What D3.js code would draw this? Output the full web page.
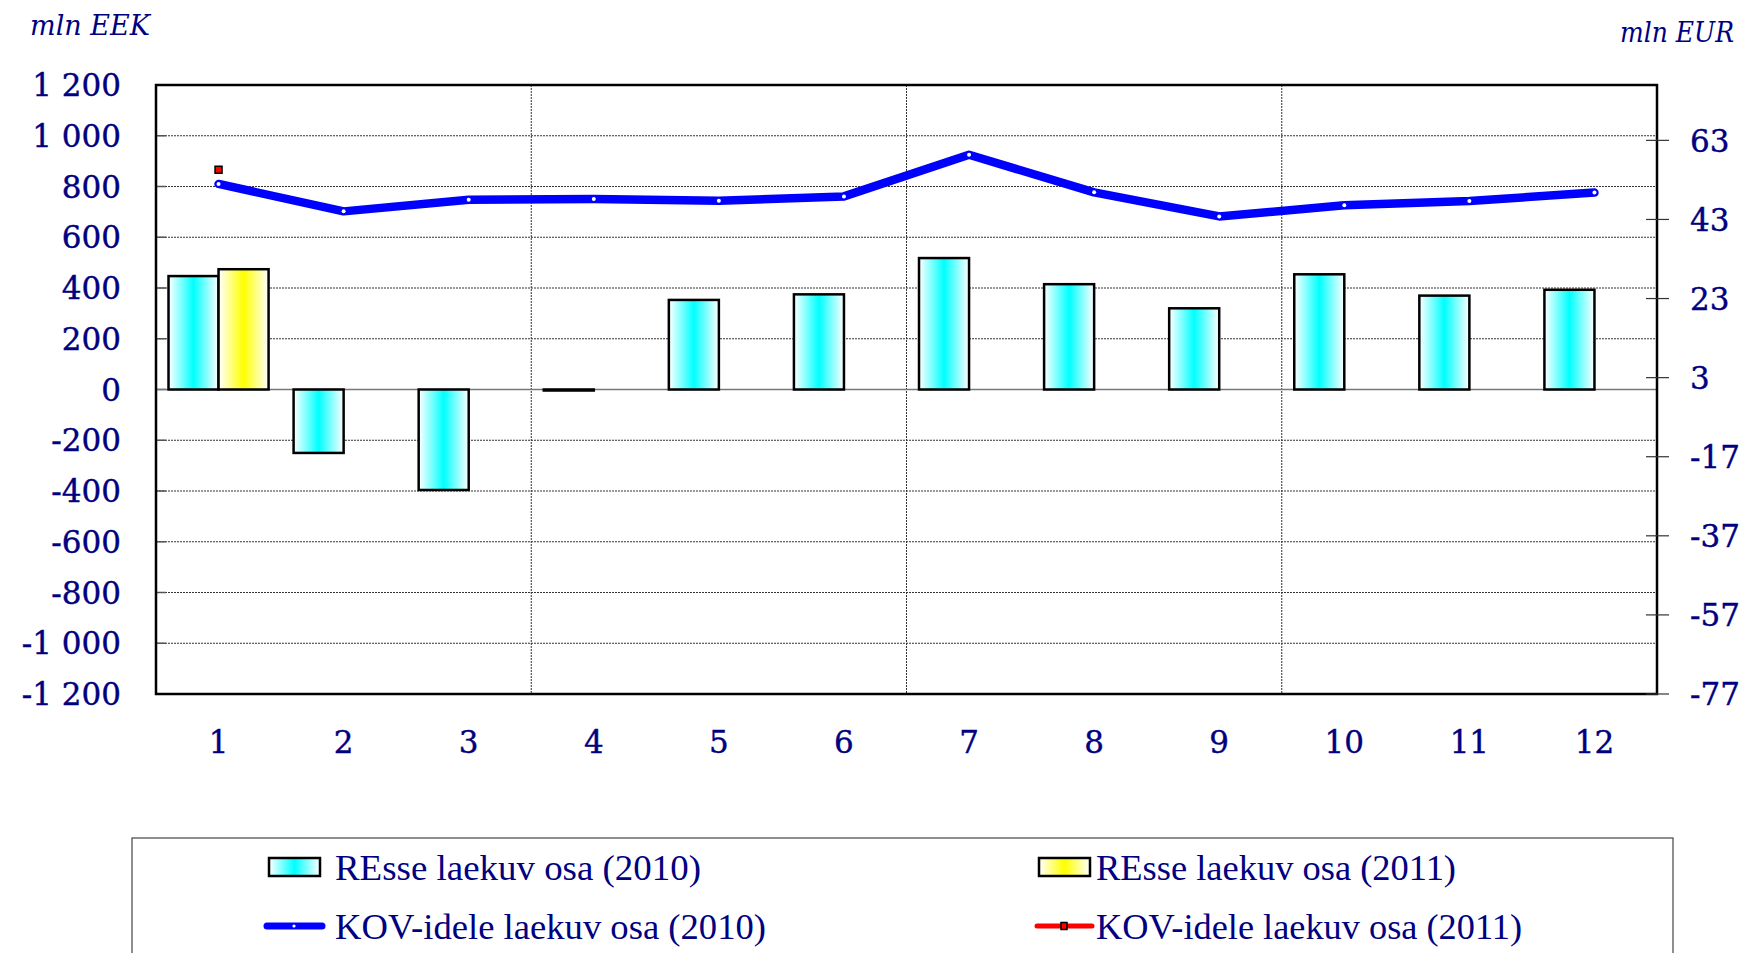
<!DOCTYPE html>
<html>
<head>
<meta charset="utf-8">
<script src="https://cdn.jsdelivr.net/npm/d3@7"></script>
<style>
  html, body { margin: 0; padding: 0; background: #fff; }
  svg { display: block; }
</style>
</head>
<body>
<svg id="chart" width="1750" height="953"></svg>
<script>
// ---------- data ----------
const months = [1, 2, 3, 4, 5, 6, 7, 8, 9, 10, 11, 12];
const res2010 = [447, -250, -396, -4, 353, 375, 518, 415, 320, 454, 370, 393];
const res2011 = [474, null, null, null, null, null, null, null, null, null, null, null];
const kov2010 = [810, 702, 748, 751, 744, 761, 925, 777, 682, 726, 743, 776];
const kov2011 = [866, null, null, null, null, null, null, null, null, null, null, null];
const leftTicks = [1200, 1000, 800, 600, 400, 200, 0, -200, -400, -600, -800, -1000, -1200];
const leftTickLabels = ["1 200", "1 000", "800", "600", "400", "200", "0", "-200", "-400", "-600", "-800", "-1 000", "-1 200"];
const rightTicks = [63, 43, 23, 3, -17, -37, -57, -77];
const seriesNames = ["REsse laekuv osa (2010)", "REsse laekuv osa (2011)", "KOV-idele laekuv osa (2010)", "KOV-idele laekuv osa (2011)"];
const leftUnit = "mln EEK";
const rightUnit = "mln EUR";

// ---------- layout ----------
const svg = d3.select("#chart");
const navy = "#000080";
const plot = { left: 156, right: 1657, top: 85, bottom: 694 };

const defs = svg.append("defs");
function grad(id, color) {
  const g = defs.append("linearGradient").attr("id", id).attr("x1", "0%").attr("x2", "100%").attr("y1", "0%").attr("y2", "0%");
  g.append("stop").attr("offset", "0%").attr("stop-color", "#ffffff");
  g.append("stop").attr("offset", "50%").attr("stop-color", color);
  g.append("stop").attr("offset", "100%").attr("stop-color", "#ffffff");
}
grad("gCyan", "#00ffff");
grad("gYellow", "#ffff00");

svg.append("rect").attr("width", 1750).attr("height", 953).attr("fill", "#fff");

const x = d3.scaleBand().domain(months).range([plot.left, plot.right]).paddingInner(0.2).paddingOuter(0.1);
const xs = d3.scaleBand().domain(["2010", "2011"]).range([0, x.bandwidth()]);
const y = d3.scaleLinear().domain([-1200, 1200]).range([plot.bottom, plot.top]);
const yR = d3.scaleLinear().domain([-77, 77]).range([plot.bottom, plot.top]);

// horizontal gridlines
svg.append("g").selectAll("line").data(leftTicks.filter(d => d !== 0 && Math.abs(d) !== 1200)).join("line")
  .attr("x1", plot.left).attr("x2", plot.right)
  .attr("y1", d => y(d)).attr("y2", d => y(d))
  .attr("stroke", "#333").attr("stroke-width", 1).attr("stroke-dasharray", "2,1");

// vertical gridlines (quarterly)
const step = x.step();
svg.append("g").selectAll("line").data([3, 6, 9]).join("line")
  .attr("x1", d => plot.left + step * d).attr("x2", d => plot.left + step * d)
  .attr("y1", plot.top).attr("y2", plot.bottom)
  .attr("stroke", "#333").attr("stroke-width", 1).attr("stroke-dasharray", "2,1");

// left inner ticks
svg.append("g").selectAll("line").data(leftTicks).join("line")
  .attr("x1", plot.left).attr("x2", plot.left + 10)
  .attr("y1", d => y(d)).attr("y2", d => y(d))
  .attr("stroke", "#555").attr("stroke-width", 1.5);

// zero line
svg.append("line").attr("x1", plot.left).attr("x2", plot.right).attr("y1", y(0)).attr("y2", y(0))
  .attr("stroke", "#777").attr("stroke-width", 1.5);

// bars
const bars = svg.append("g");
const barData = [];
months.forEach((m, i) => {
  if (res2010[i] != null) barData.push({ m, s: "2010", v: res2010[i] });
  if (res2011[i] != null) barData.push({ m, s: "2011", v: res2011[i] });
});
bars.selectAll("rect").data(barData).join("rect")
  .attr("x", d => x(d.m) + xs(d.s))
  .attr("width", xs.bandwidth())
  .attr("y", d => Math.min(y(d.v), y(0)))
  .attr("height", d => Math.abs(y(d.v) - y(0)))
  .attr("fill", d => d.s === "2010" ? "url(#gCyan)" : "url(#gYellow)")
  .attr("stroke", "#000").attr("stroke-width", 2.5);

// line 2010
const cx = m => x(m) + x.bandwidth() / 2;
const line = d3.line().defined(d => d.v != null).x(d => cx(d.m)).y(d => y(d.v));
const kovData = months.map((m, i) => ({ m, v: kov2010[i] }));
svg.append("path").datum(kovData).attr("d", line)
  .attr("fill", "none").attr("stroke", "#0000ff").attr("stroke-width", 8.5)
  .attr("stroke-linejoin", "round").attr("stroke-linecap", "round");
svg.append("g").selectAll("circle").data(kovData).join("circle")
  .attr("cx", d => cx(d.m)).attr("cy", d => y(d.v)).attr("r", 2)
  .attr("fill", "#fff");

// line 2011 (single point marker)
const kov11 = months.map((m, i) => ({ m, v: kov2011[i] })).filter(d => d.v != null);
svg.append("path").datum(months.map((m, i) => ({ m, v: kov2011[i] }))).attr("d", line)
  .attr("fill", "none").attr("stroke", "#ff0000").attr("stroke-width", 4);
svg.append("g").selectAll("rect").data(kov11).join("rect")
  .attr("x", d => cx(d.m) - 3.5).attr("y", d => y(d.v) - 3.5)
  .attr("width", 7).attr("height", 7)
  .attr("fill", "#ff0000").attr("stroke", "#000").attr("stroke-width", 1.5);

// plot frame
svg.append("rect").attr("x", plot.left).attr("y", plot.top)
  .attr("width", plot.right - plot.left).attr("height", plot.bottom - plot.top)
  .attr("fill", "none").attr("stroke", "#000").attr("stroke-width", 2.5);

// right axis ticks
svg.append("g").selectAll("line").data(rightTicks).join("line")
  .attr("x1", plot.right - 11).attr("x2", plot.right + 12)
  .attr("y1", d => yR(d)).attr("y2", d => yR(d))
  .attr("stroke", "#333").attr("stroke-width", 1.2);

// left tick labels
const font = "'DejaVu Serif', serif";
svg.append("g").selectAll("text").data(leftTicks).join("text")
  .attr("x", 121).attr("y", d => y(d)).attr("dy", "0.36em")
  .attr("text-anchor", "end").attr("fill", navy)
  .attr("font-family", font).attr("font-size", 31)
  .attr("stroke", navy).attr("stroke-width", 0.4)
  .text((d, i) => leftTickLabels[i]);

// right tick labels
svg.append("g").selectAll("text").data(rightTicks).join("text")
  .attr("x", 1690).attr("y", d => yR(d)).attr("dy", "0.36em")
  .attr("text-anchor", "start").attr("fill", navy)
  .attr("font-family", font).attr("font-size", 31)
  .attr("stroke", navy).attr("stroke-width", 0.4)
  .text(d => String(d));

// x labels
svg.append("g").selectAll("text").data(months).join("text")
  .attr("x", d => cx(d)).attr("y", 742).attr("dy", "0.36em")
  .attr("text-anchor", "middle").attr("fill", navy)
  .attr("font-family", font).attr("font-size", 31)
  .attr("stroke", navy).attr("stroke-width", 0.4)
  .text(d => String(d));

// unit labels
svg.append("text").attr("x", 30).attr("y", 35).attr("fill", navy)
  .attr("font-family", font).attr("font-style", "italic").attr("font-size", 28)
  .attr("textLength", 120).attr("lengthAdjust", "spacingAndGlyphs").text(leftUnit);
svg.append("text").attr("x", 1620).attr("y", 42).attr("fill", navy)
  .attr("font-family", font).attr("font-style", "italic").attr("font-size", 28)
  .attr("textLength", 114).attr("lengthAdjust", "spacingAndGlyphs").text(rightUnit);

// legend
const lg = svg.append("g");
lg.append("rect").attr("x", 132).attr("y", 838).attr("width", 1541).attr("height", 200)
  .attr("fill", "#fff").attr("stroke", "#444").attr("stroke-width", 1.2);
const legendItems = [
  { name: seriesNames[0], type: "bar", fill: "url(#gCyan)", sx: 269, tx: 335, yy: 867, tl: 366 },
  { name: seriesNames[2], type: "line", color: "#0000ff", sx: 269, tx: 335, yy: 926, tl: 431 },
  { name: seriesNames[1], type: "bar", fill: "url(#gYellow)", sx: 1039, tx: 1096, yy: 867, tl: 360 },
  { name: seriesNames[3], type: "line", color: "#ff0000", sx: 1039, tx: 1096, yy: 926, tl: 426 }
];
legendItems.forEach((it, i) => {
  if (it.type === "bar") {
    lg.append("rect").attr("x", it.sx).attr("y", it.yy - 9).attr("width", 51).attr("height", 18)
      .attr("fill", it.fill).attr("stroke", "#000").attr("stroke-width", 2.5);
  } else {
    lg.append("line").attr("x1", it.sx - 2).attr("x2", it.sx + 53).attr("y1", it.yy).attr("y2", it.yy)
      .attr("stroke", it.color).attr("stroke-width", i === 1 ? 7 : 5).attr("stroke-linecap", "round");
    if (i === 1) {
      lg.append("circle").attr("cx", it.sx + 25).attr("cy", it.yy).attr("r", 1.6).attr("fill", "#fff");
    } else {
      lg.append("rect").attr("x", it.sx + 22).attr("y", it.yy - 3.5).attr("width", 6).attr("height", 7)
        .attr("fill", "#ff0000").attr("stroke", "#000").attr("stroke-width", 1.5);
    }
  }
  lg.append("text").attr("x", it.tx).attr("y", it.yy).attr("dy", "0.35em")
    .attr("fill", navy).attr("font-family", "'Liberation Serif', serif").attr("font-size", 36)
    .attr("textLength", it.tl).attr("lengthAdjust", "spacingAndGlyphs")
    .text(it.name);
});
</script>
</body>
</html>
